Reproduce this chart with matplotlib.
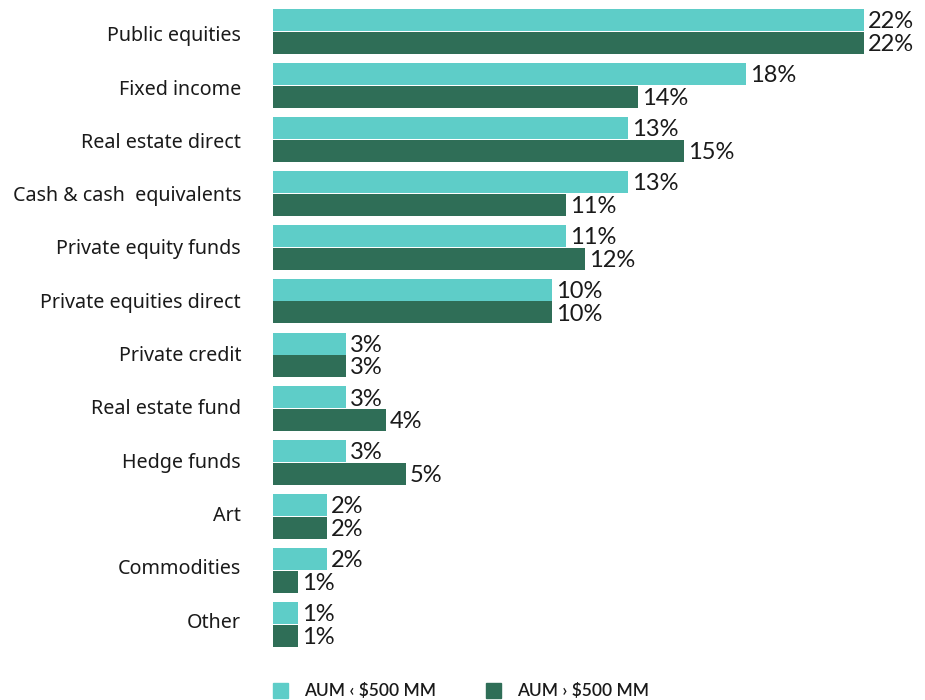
import numpy as np
import matplotlib.pyplot as plt
from matplotlib.patches import Rectangle

# Asset allocation by AUM band (% of portfolio)
categories = ['Public equities', 'Fixed income', 'Real estate direct',
              'Cash & cash  equivalents', 'Private equity funds',
              'Private equities direct', 'Private credit', 'Real estate fund',
              'Hedge funds', 'Art', 'Commodities', 'Other']
aum_small = [22.0, 17.6, 13.2, 13.2, 10.9, 10.4, 2.7, 2.7, 2.7, 2.0, 2.0, 0.93]
aum_large = [22.0, 13.6, 15.3, 10.9, 11.6, 10.4, 2.7, 4.2, 4.95, 2.0, 0.93, 0.93]
series_labels = ['AUM \u2039 $500 MM', 'AUM \u203a $500 MM']

light = '#5ecdc8'
dark = '#2f6e57'
txt = '#1a1a1a'

W, H = 925, 700
fig = plt.figure(figsize=(W / 100, H / 100), dpi=100)
# axes spans the bar block in pixel terms
ax = fig.add_axes([273 / W, 1 - 647 / H, 644.6 / W, 638 / H])

y = np.arange(len(categories))
h = 0.408
off = 0.212
ax.barh(y - off, aum_small, height=h, color=light)
ax.barh(y + off, aum_large, height=h, color=dark)

ax.set_xlim(0, 24)
ax.set_ylim(len(categories) - 1 + 0.42, -0.42)

for yi, v in zip(y - off, aum_small):
    ax.text(v + 0.15, yi + 0.03, f'{round(v)}%', va='center', ha='left',
            fontsize=17, color=txt, family='Lato', clip_on=False)
for yi, v in zip(y + off, aum_large):
    ax.text(v + 0.15, yi + 0.03, f'{round(v)}%', va='center', ha='left',
            fontsize=17, color=txt, family='Lato', clip_on=False)

# category labels sit on a slightly tighter pitch than the bar groups
ax.set_yticks(0.04 + y * 0.989)
ax.set_yticklabels(categories, fontsize=14.2, color=txt, family='Noto Sans')
ax.tick_params(axis='y', length=0, pad=23)
ax.set_xticks([])
for s in ax.spines.values():
    s.set_visible(False)

# legend squares and labels along the bottom
for x0, col, lab in [(273, light, series_labels[0]), (486, dark, series_labels[1])]:
    fig.patches.append(Rectangle((x0 / W, 1 - 698 / H), 15 / W, 15 / H,
                                 transform=fig.transFigure, color=col))
    fig.text((x0 + 31) / W, 1 - 690.5 / H, lab, fontsize=12.5, fontweight='semibold',
             color=txt, family='Lato', va='center', ha='left')

fig.savefig('out.png', dpi=100)
